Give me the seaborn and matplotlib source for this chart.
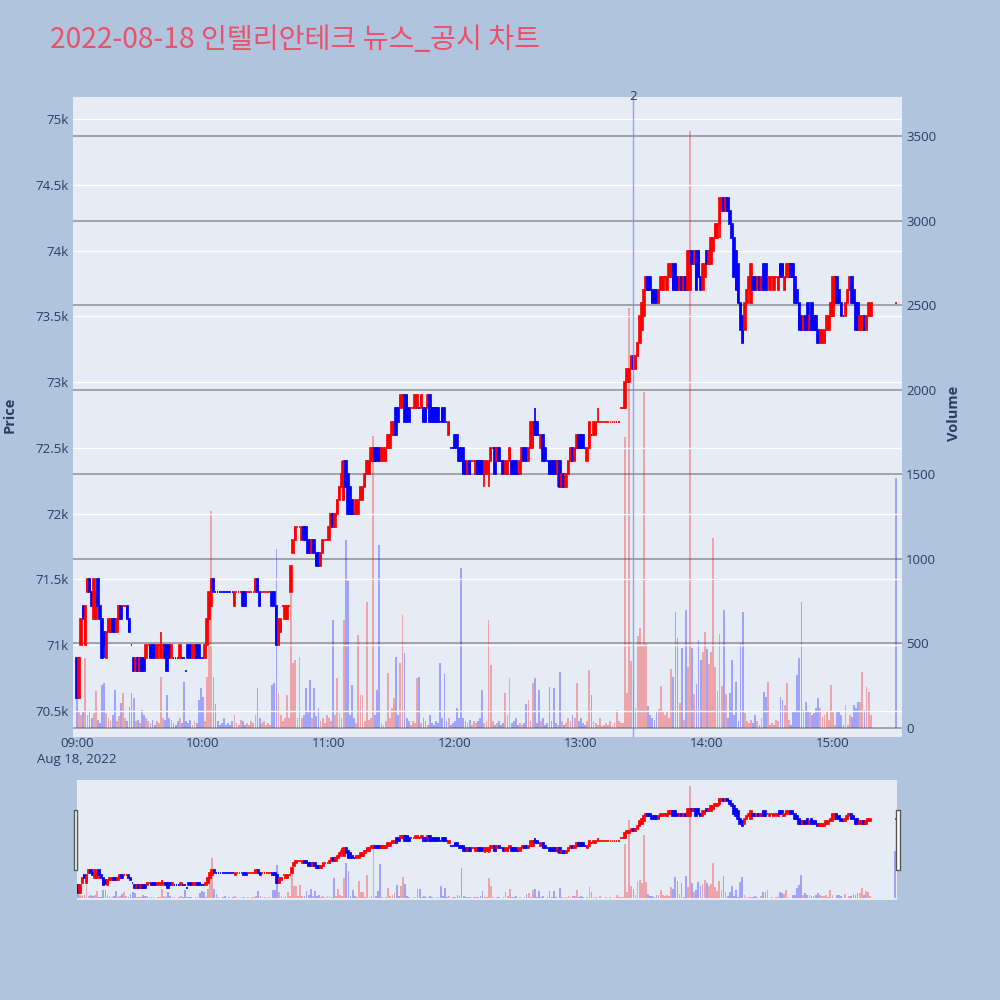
import numpy as np
import pandas as pd
import matplotlib
matplotlib.use("Agg")
import matplotlib.pyplot as plt
from matplotlib.patches import Rectangle
import seaborn as sns

sns.set_theme(style="white")
plt.rcParams["font.family"] = ["Open Sans", "Noto Sans CJK KR", "DejaVu Sans"]

TITLE = "2022-08-18 인텔리안테크 뉴스_공시 차트"
DATE_LABEL = "Aug 18, 2022"
session_start = "2022-08-18 09:00"
n_regular_bars = 379
close_auction_time = "2022-08-18 15:30"
marker_time = "2022-08-18 13:25"
marker_text = "2"

# prices in units of 100 KRW, one bar per minute (09:00 ... 15:18, then 15:30)
open_px = [
    709,706,710,713,710,714,715,714,712,712, 715,713,712,711,709,711,711,712,712,711,
    712,713,713,713,713,712,710,709,708,709, 708,709,709,709,710,710,710,710,709,710,
    709,710,710,710,710,709,709,709,709,709, 709,709,708,710,710,709,709,710,710,709,
    709,709,710,712,713,715,714,714,714,714, 714,714,714,714,714,713,714,714,714,714,
    714,714,714,714,714,714,715,714,714,714, 714,714,714,714,714,713,710,711,713,712,
    712,713,714,717,718,719,719,718,719,719, 718,718,717,718,717,717,716,717,718,718,
    718,719,720,719,720,721,722,721,724,723, 722,721,720,720,720,721,721,722,723,723,
    724,724,725,725,725,724,724,724,725,725, 726,726,728,728,728,728,729,729,728,728,
    728,728,728,728,728,728,728,728,729,728, 728,728,728,727,728,728,727,726,725,725,
    726,726,725,725,725,724,723,724,724,724, 723,724,724,724,723,723,723,724,725,725,
    724,725,724,724,723,723,724,724,724,724, 723,723,724,725,725,724,725,725,727,727,
    726,725,726,725,724,724,724,724,724,723, 724,722,723,722,723,724,725,724,725,726,
    726,726,725,724,725,726,726,726,727,727, 727,727,727,727,727,727,727,727,727,728,
    728,728,730,730,731,732,731,732,733,734, 735,737,738,738,737,737,737,736,737,737,
    738,737,738,738,739,739,738,737,738,737, 738,737,737,740,739,740,740,738,737,738,
    740,739,739,740,741,741,742,743,744,743, 744,743,742,741,740,739,736,735,734,736,
    737,736,738,738,737,738,737,739,739,738, 737,738,737,738,737,739,739,737,738,738,
    739,739,738,737,736,735,734,735,736,734, 736,735,735,734,733,733,733,734,734,735,
    735,736,738,737,736,735,735,736,737,738, 737,736,736,734,734,735,734,735,735,
    736,
]
high_px = [
    709,709,712,713,713,715,715,714,715,714, 715,713,712,711,711,712,712,712,712,712,
    713,713,713,713,713,712,710,709,709,709, 709,709,709,710,710,710,710,710,710,710,
    711,710,710,710,710,710,709,709,709,710, 709,709,708,710,710,710,710,710,710,709,
    709,710,712,714,715,715,714,714,714,714, 714,714,714,714,714,714,714,714,714,714,
    714,714,714,714,714,715,715,714,714,714, 714,714,714,714,714,713,712,712,713,713,
    713,713,716,718,719,719,719,719,719,719, 718,718,718,718,717,717,717,718,718,718,
    719,720,720,720,721,722,724,724,724,723, 722,721,720,721,721,722,722,723,724,724,
    725,725,725,725,725,725,725,725,726,726, 727,727,728,728,729,729,729,729,728,728,
    728,729,729,728,729,728,728,729,729,728, 728,728,728,727,728,728,727,727,725,725,
    726,726,725,725,725,724,724,724,724,724, 724,724,724,724,724,724,724,725,725,725,
    725,725,724,724,724,724,725,724,724,724, 723,724,725,725,725,725,727,727,728,727,
    726,726,726,725,724,724,724,724,724,724, 724,723,723,723,724,725,725,725,726,726,
    726,726,725,725,727,726,727,727,728,727, 727,727,727,727,727,727,727,727,727,728,
    728,730,731,731,732,732,732,733,735,736, 737,738,738,738,737,737,737,737,738,738,
    738,738,739,739,739,739,738,738,738,738, 738,740,740,740,740,740,740,738,739,739,
    740,740,741,741,742,742,744,744,744,744, 744,743,742,741,740,739,736,735,736,737,
    738,739,738,738,738,738,738,739,739,738, 738,738,738,738,738,739,739,738,739,739,
    739,739,738,737,736,735,735,735,736,735, 736,735,735,734,734,734,734,735,735,736,
    738,738,738,737,736,735,736,737,738,738, 737,736,736,735,735,735,735,736,736,
    736,
]
low_px = [
    706,706,710,712,710,714,714,713,712,712, 713,712,709,709,709,711,711,711,711,711,
    712,712,713,713,712,711,710,708,708,708, 708,708,708,709,710,709,709,709,709,710,
    709,710,709,708,709,709,709,709,709,709, 709,709,708,709,709,709,709,709,709,709,
    709,709,710,712,713,714,714,714,714,714, 714,714,714,714,714,713,714,714,714,713,
    713,714,714,714,714,714,714,713,714,714, 714,714,714,713,713,710,710,711,713,712,
    712,713,714,717,718,719,719,718,718,718, 717,717,717,717,716,716,716,717,718,718,
    718,719,719,719,720,721,722,721,722,720, 720,720,720,720,720,721,721,722,723,723,
    724,724,724,724,724,724,724,724,725,725, 726,726,726,727,728,728,727,727,727,728,
    728,728,728,728,728,727,727,728,727,727, 727,727,727,727,727,727,727,726,725,725,
    725,725,724,724,723,723,723,723,724,724, 723,723,723,723,722,723,722,724,725,723,
    724,724,724,723,723,723,724,723,723,723, 723,723,724,724,724,724,725,725,726,726,
    726,725,724,724,724,723,723,723,723,722, 722,722,722,722,723,724,724,724,725,725,
    725,725,725,724,725,726,726,726,727,727, 727,727,727,727,727,727,727,727,727,728,
    728,728,730,730,731,731,731,732,733,734, 735,737,737,737,736,736,736,736,737,737,
    738,737,738,738,737,737,737,737,737,737, 737,737,737,739,739,737,738,737,737,738,
    739,739,739,740,741,741,741,743,743,743, 743,742,741,738,737,736,734,733,734,736,
    737,736,737,737,737,737,737,737,737,738, 737,738,737,738,737,738,738,737,738,738,
    738,738,736,736,734,734,734,734,734,734, 734,734,734,733,733,733,733,734,734,735,
    735,736,736,736,735,735,735,736,737,736, 736,734,734,734,734,734,734,735,735,
    736,
]
close_px = [
    706,709,712,712,713,715,714,713,715,714, 713,712,709,710,711,712,712,711,711,712,
    713,712,713,713,712,711,710,708,709,708, 709,708,708,710,710,709,709,709,710,710,
    710,710,709,708,709,710,709,709,709,710, 709,709,708,709,709,710,710,709,709,709,
    709,710,712,714,715,714,714,714,714,714, 714,714,714,714,714,714,714,714,714,713,
    713,714,714,714,714,715,714,713,714,714, 714,714,714,713,713,710,712,712,713,713,
    713,713,716,718,719,719,719,719,718,718, 717,717,718,717,716,716,717,718,718,718,
    719,720,719,720,721,722,723,724,722,720, 720,720,720,721,721,722,722,723,724,724,
    725,725,724,724,724,725,725,725,726,726, 727,727,726,727,729,729,727,727,727,728,
    728,729,729,728,729,727,727,729,727,727, 727,727,727,727,727,727,727,727,725,725,
    725,725,724,724,723,723,724,723,724,724, 724,723,723,723,724,724,724,725,725,723,
    725,724,724,723,724,724,725,723,723,723, 723,724,725,724,724,725,727,727,726,726,
    726,726,724,724,724,723,723,723,723,724, 722,723,722,723,724,725,724,725,726,725,
    725,725,725,725,727,726,727,727,727,727, 727,727,727,727,727,727,727,727,727,728,
    728,730,731,731,732,731,732,733,735,736, 737,738,737,737,736,736,736,737,738,738,
    738,738,739,739,737,737,737,738,737,738, 737,740,740,739,740,737,738,737,739,739,
    739,740,741,741,742,742,744,744,743,744, 743,742,741,738,737,736,734,733,736,737,
    738,739,737,737,738,737,738,737,737,738, 738,738,738,738,738,738,738,738,739,739,
    738,738,736,736,734,734,735,734,734,735, 734,734,734,733,734,734,734,735,735,736,
    738,738,736,736,735,735,736,737,738,736, 736,734,734,735,735,734,735,736,736,
    736,
]
volume = [
    177,100,80,100,414,77,107,60,90,217, 47,30,256,265,90,60,40,80,225,40,
    70,146,205,60,40,126,205,175,40,50, 30,107,80,60,40,30,50,20,40,30,
    304,60,47,195,60,50,30,20,40,60, 30,274,40,30,47,20,40,30,166,235,
    186,40,300,800,1284,300,140,40,20,30, 60,20,30,20,40,80,30,20,50,40,
    20,30,20,40,30,80,236,60,30,40, 20,30,20,256,265,1060,205,80,40,60,
    195,60,800,384,402,60,420,60,80,235, 100,284,60,236,70,120,40,60,30,80,
    60,40,639,80,296,90,60,640,1110,870, 80,254,60,30,550,195,195,40,747,50,
    60,1724,80,225,1083,30,20,40,325,60, 120,175,422,80,386,669,445,60,40,20,
    40,30,294,304,30,60,40,20,80,30, 20,40,30,386,60,318,40,60,20,30,
    40,120,60,947,60,40,30,50,20,40, 30,40,60,225,30,40,639,373,40,20,
    30,40,20,30,205,80,294,30,40,60, 20,30,20,30,145,165,40,265,294,30,
    225,40,60,20,30,245,40,235,30,20, 333,40,20,30,60,40,80,60,265,40,
    60,30,20,40,343,195,40,30,20,60, 10,20,30,20,40,10,30,109,40,30,
    30,1722,210,2481,397,280,120,546,593,490, 1988,500,130,80,60,50,100,110,248,100,
    80,100,60,351,300,686,535,150,476,50, 697,361,3528,476,200,260,520,400,450,566,
    470,380,450,1124,360,220,556,250,697,200, 60,210,400,80,270,40,500,686,90,40,
    30,46,30,76,40,20,60,215,185,274, 20,30,20,47,40,185,166,136,264,47,
    18,96,96,313,412,747,108,156,96,96, 77,86,116,175,116,67,77,96,47,254,
    96,18,96,96,77,18,136,18,77,67, 136,116,156,156,333,106,244,215,77,
    1479,
]
# colour of the closing-auction volume bar as shown in the chart
close_auction_volume_dir = "down"
price_ticks = [705, 710, 715, 720, 725, 730, 735, 740, 745, 750]
volume_ticks = [0, 500, 1000, 1500, 2000, 2500, 3000, 3500]
time_tick_labels = ["09:00", "10:00", "11:00", "12:00", "13:00", "14:00", "15:00"]

# ---------------------------------------------------------------- frame
times = pd.date_range(session_start, periods=n_regular_bars, freq="min")
times = times.append(pd.DatetimeIndex([close_auction_time]))
t0 = pd.Timestamp(session_start)
minute = ((times - t0).total_seconds() / 60.0).to_numpy()

up = []
prev_c, prev_u = None, True
for o, c in zip(open_px, close_px):
    if c > o:
        u = True
    elif c < o:
        u = False
    elif prev_c is None or c > prev_c:
        u = True
    elif c < prev_c:
        u = False
    else:
        u = prev_u
    up.append(u)
    prev_c, prev_u = c, u

df = pd.DataFrame({
    "minute": minute, "open": open_px, "high": high_px, "low": low_px,
    "close": close_px, "volume": volume,
    "dir": ["up" if u else "down" for u in up],
})
df["vdir"] = df["dir"]
df.loc[df.index[-1], "vdir"] = close_auction_volume_dir
col = np.where(df["dir"] == "up", "#ff0000", "#0000ff")

BG = "#B0C4DE"
PLOT_BG = "#E5ECF6"
TXT = "#2a3f5f"
PRICE_LIM = (703.0, 751.7)
VOL_LIM = (-53, 3731)


def draw(ax_p, ax_v, lw, body_w):
    ax_p.set_zorder(ax_v.get_zorder() + 1)
    ax_p.patch.set_visible(False)
    ax_v.patch.set_visible(True)
    ax_v.patch.set_facecolor(PLOT_BG)
    sns.barplot(data=df, x="minute", y="volume", hue="vdir",
                palette={"up": "#ff0000", "down": "#0000ff"},
                native_scale=True, dodge=False, width=0.85, saturation=1,
                alpha=0.3, errorbar=None, legend=False, linewidth=0, ax=ax_v)
    ax_p.vlines(df["minute"], df["low"], df["high"], colors=col, lw=lw, zorder=3)
    ax_p.bar(df["minute"], (df["close"] - df["open"]).abs(),
             bottom=np.minimum(df["open"], df["close"]), width=body_w,
             color=col, edgecolor=col, linewidth=lw, zorder=4)
    ax_p.set_ylim(*PRICE_LIM)
    ax_v.set_ylim(*VOL_LIM)
    for a in (ax_p, ax_v):
        for s in a.spines.values():
            s.set_visible(False)
        a.set_xlabel("")
        a.set_ylabel("")


fig = plt.figure(figsize=(10, 10), dpi=100, facecolor=BG)

# ---------------------------------------------------------------- main chart
ax = fig.add_axes([0.073, 0.263, 0.829, 0.640])
axv = ax.twinx()
draw(ax, axv, 1.25, 0.75)
ax.set_xlim(-1.9, 392.9)
axv.set_xlim(-1.9, 392.9)

ax.set_yticks(price_ticks)
ax.set_yticklabels([f"{v / 10:g}k" for v in price_ticks])
ax.grid(axis="y", color="white", lw=1.0)
ax.grid(axis="x", visible=False)
axv.set_yticks(volume_ticks)
axv.set_yticklabels([str(v) for v in volume_ticks])
axv.grid(axis="y", color="#9c9ea3", lw=1.3)
axv.grid(axis="x", visible=False)
axv.axhline(0, color="white", lw=1.6, zorder=0.5)

ax.set_xticks([0, 60, 120, 180, 240, 300, 360])
ax.set_xticklabels(time_tick_labels)
for a in (ax, axv):
    a.tick_params(length=0, labelsize=9.5, labelcolor=TXT, pad=3)
ax.tick_params(axis="x", pad=0)

mk = (pd.Timestamp(marker_time) - t0).total_seconds() / 60.0
ax.axvline(mk, color="#6f8ff0", alpha=0.75, lw=1.0, zorder=5)
ax.text(mk, PRICE_LIM[1], marker_text, ha="center", va="center",
        fontsize=9.5, color=TXT, zorder=6, clip_on=False)

fig.text(0.077, 1 - 0.759, DATE_LABEL, ha="center", va="center",
         fontsize=9.5, color=TXT)
fig.text(0.010, 0.585, "Price", rotation=90, ha="center", va="center",
         fontsize=10.5, fontweight="bold", color=TXT)
fig.text(0.954, 0.587, "Volume", rotation=90, ha="center", va="center",
         fontsize=10.5, fontweight="bold", color=TXT)
fig.text(0.050, 0.960, TITLE, ha="left", va="center", fontsize=20.3,
         color="#E9526A", family=["Noto Sans CJK KR", "DejaVu Sans"])

# ---------------------------------------------------------------- range slider
sl = fig.add_axes([0.0765, 0.100, 0.8205, 0.120])
slv = sl.twinx()
draw(sl, slv, 1.25, 0.75)
sl.set_xlim(-0.8, 390.8)
slv.set_xlim(-0.8, 390.8)
for a in (sl, slv):
    a.set_xticks([])
    a.set_yticks([])
    a.grid(False)

for x0 in (0.0735, 0.8962):
    fig.patches.append(Rectangle((x0, 0.130), 0.0038, 0.060,
                                 transform=fig.transFigure, facecolor="white",
                                 edgecolor="#555555", lw=1.0, zorder=10))

fig.savefig("out.png", dpi=100, facecolor=BG)
